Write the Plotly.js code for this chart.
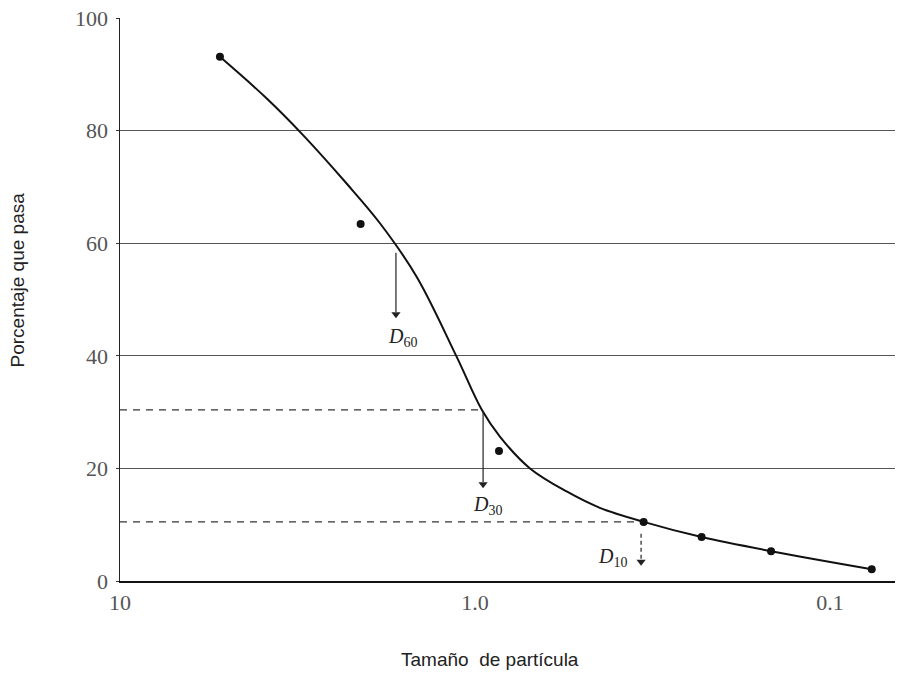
<!DOCTYPE html>
<html>
<head>
<meta charset="utf-8">
<script src="https://cdn.plot.ly/plotly-3.0.1.min.js"></script>
<style>html,body{margin:0;padding:0;background:#fff;}#chart{width:897px;height:675px;}</style>
</head>
<body>
<div id="chart"></div>
<script>
// Sample points (particle size, % passing)
const sampleSize = [5.23, 2.10, 0.856, 0.335, 0.230, 0.1466, 0.0763];
const samplePct  = [93.1, 63.4, 23.1, 10.5, 7.8, 5.3, 2.1];

// Smooth grading curve
const curveSize = [5.23, 3.86, 3.05, 2.30, 1.85, 1.459, 1.126, 0.957, 0.850, 0.700, 0.552, 0.445, 0.335, 0.230, 0.1466, 0.0763];
const curvePct  = [93.1, 85.7, 79.2, 70.6, 63.5, 54.0, 39.8, 30.4, 25.6, 20.0, 15.9, 13.0, 10.5, 7.8, 5.3, 2.1];

// Characteristic diameters
const dLabels = ['60', '30', '10'];
const dSize   = [1.67, 0.949, 0.3406];
const dPct    = [60, 30.4, 10.5];
const dArrowTop = [58.3, 30.0, 8.4];
const dArrowTip = [46.6, 16.4, 2.6];
const dLabelSize = [1.60, 0.92, 0.41];
const dLabelPct  = [43.3, 13.5, 4.1];

// Axis ticks
const xTickVals = [10, 1, 0.1];
const xTickText = ['10', '1.0', '0.1'];
const yTickVals = [0, 20, 40, 60, 80, 100];

const traces = [
  { x: [10, dSize[1]], y: [dPct[1], dPct[1]], mode: 'lines', line: {color: '#333', width: 1.2, dash: '7px,6px'}, hoverinfo: 'skip' },
  { x: [10, dSize[2]], y: [dPct[2], dPct[2]], mode: 'lines', line: {color: '#333', width: 1.2, dash: '7px,6px'}, hoverinfo: 'skip' },
  { x: curveSize, y: curvePct, mode: 'lines', line: {color: '#111', width: 2, shape: 'spline', smoothing: 1} },
  { x: sampleSize, y: samplePct, mode: 'markers', marker: {color: '#111', size: 8} }
];

// D arrows: stems and heads
for (let i = 0; i < dLabels.length; i++) {
  traces.push({
    x: [dSize[i], dSize[i]], y: [dArrowTop[i], dArrowTip[i] + 1.2], mode: 'lines',
    line: {color: '#222', width: 1.2, dash: i === 2 ? '4px,3px' : 'solid'}, hoverinfo: 'skip'
  });
}
traces.push({
  x: dSize, y: dArrowTip.map(v => v + 0.8), mode: 'markers',
  marker: {symbol: 'triangle-down', size: 8, color: '#222'}, hoverinfo: 'skip'
});

const annotations = [];
for (let i = 0; i < dLabels.length; i++) {
  annotations.push({
    x: Math.log10(dLabelSize[i]), y: dLabelPct[i], xref: 'x', yref: 'y',
    text: '<i>D</i><sub>' + dLabels[i] + '</sub>', showarrow: false,
    font: {family: 'Liberation Serif', size: 20, color: '#222'}
  });
}
annotations.push({
  x: 0.477, y: -0.14, xref: 'paper', yref: 'paper', showarrow: false,
  xanchor: 'center', yanchor: 'middle',
  text: 'Tamaño  de partícula', font: {family: 'Liberation Sans', size: 19, color: '#222'}
});
annotations.push({
  x: -0.132, y: 0.535, xref: 'paper', yref: 'paper', showarrow: false, textangle: -90,
  xanchor: 'center', yanchor: 'middle',
  text: 'Porcentaje que pasa', font: {family: 'Liberation Sans', size: 19, color: '#222'}
});

const layout = {
  width: 897, height: 675,
  margin: {l: 120, r: 2, t: 18, b: 94},
  paper_bgcolor: '#fff', plot_bgcolor: '#fff',
  showlegend: false,
  xaxis: {
    type: 'log', range: [1, -1.183],
    tickvals: xTickVals, ticktext: xTickText,
    showgrid: false, zeroline: false,
    showline: true, linecolor: '#111', linewidth: 2,
    ticks: '', ticklabelstandoff: 1,
    tickfont: {family: 'Liberation Serif', size: 22, color: '#555'}
  },
  yaxis: {
    range: [0, 100], tickvals: yTickVals,
    showgrid: true, gridcolor: '#555', gridwidth: 1,
    zeroline: false,
    showline: true, linecolor: '#222', linewidth: 1.5,
    ticks: 'outside', ticklen: 3, tickcolor: '#333', ticklabelstandoff: 3,
    tickfont: {family: 'Liberation Serif', size: 22, color: '#555'}
  },
  shapes: [
    {type: 'line', xref: 'x', yref: 'y', x0: -1, x1: -1, y0: 88.5, y1: 100,
     line: {color: '#555', width: 1, dash: 'dot'}}
  ],
  annotations: annotations
};

Plotly.newPlot('chart', traces, layout, {displayModeBar: false, staticPlot: true});
</script>
</body>
</html>
